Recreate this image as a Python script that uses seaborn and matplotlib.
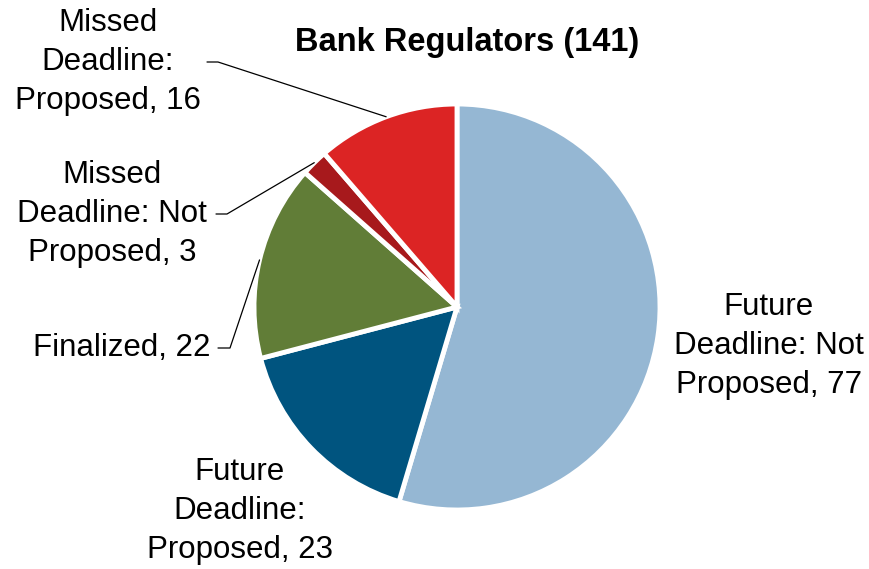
import numpy as np
import matplotlib
matplotlib.use("Agg")
import matplotlib.pyplot as plt
import seaborn as sns

# Bank regulators rulemaking status, clockwise from 12 o'clock
categories = [
    "Future\nDeadline: Not\nProposed",
    "Future\nDeadline:\nProposed",
    "Finalized",
    "Missed\nDeadline: Not\nProposed",
    "Missed\nDeadline:\nProposed",
]
counts = [77, 23, 22, 3, 16]
colors = ["#95B7D3", "#00547F", "#617D37", "#A7191C", "#DC2424"]
title = "Bank Regulators (141)"

sns.set_theme(style="white")
plt.rcParams["font.family"] = ["Liberation Sans", "DejaVu Sans"]

W, H = 870, 569
fig = plt.figure(figsize=(W / 100, H / 100), dpi=100)
ax = fig.add_axes([0, 0, 1, 1])

cx, cy, r = 457, H - 307, 203
wedges, _ = ax.pie(
    counts,
    colors=colors,
    startangle=90,
    counterclock=False,
    center=(cx, cy),
    radius=r,
    wedgeprops=dict(edgecolor="white", linewidth=3.5),
    frame=True,
)
ax.set_xlim(0, W)
ax.set_ylim(0, H)
ax.set_aspect("equal")
ax.axis("off")

fs = 22.5
labels = [f"{c}, {n}" for c, n in zip(categories, counts)]

# label centres (pixel coords from top), and leader elbow for outside labels
label_pos = [(769, 346), (240, 511), (122, 348), (112, 214), (108, 62)]
elbows = [None, None, (218, 230), (216, 227), (207, 218)]

for w, lab, (lx, ly), el in zip(wedges, labels, label_pos, elbows):
    ax.text(lx, H - ly, lab, ha="center", va="center", fontsize=fs,
            linespacing=1.38, color="black")
    if el is not None:
        mid = np.deg2rad((w.theta1 + w.theta2) / 2)
        px, py = cx + r * np.cos(mid), cy + r * np.sin(mid)
        ax.plot([el[0], el[1], px], [H - ly, H - ly, py],
                color="black", lw=0.9)

ax.text(467, H - 42, title, ha="center", va="center", fontsize=23.5,
        fontweight="bold", color="black")

fig.savefig("out.png", dpi=100)
